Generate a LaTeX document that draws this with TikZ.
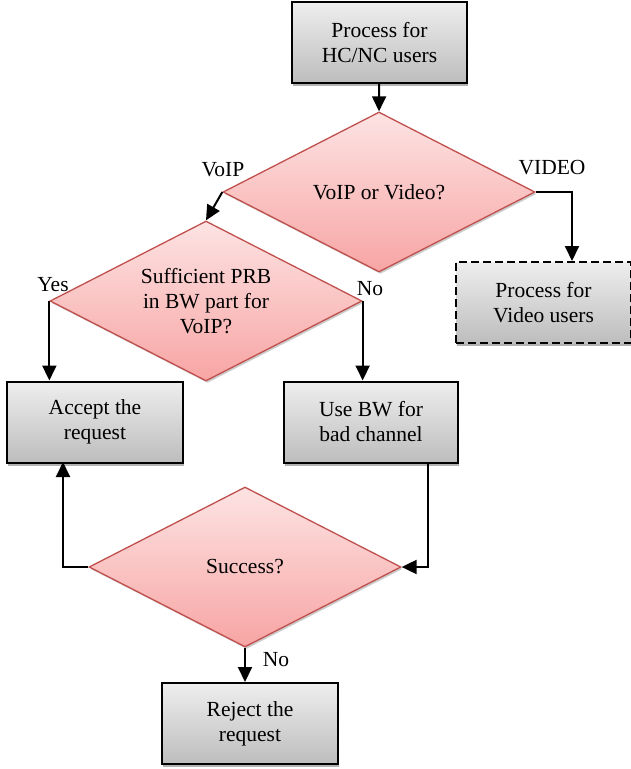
\documentclass[tikz,border=0pt]{standalone}
\usepackage{fontspec}
\setmainfont{Liberation Serif}
\usetikzlibrary{shapes.geometric,arrows.meta,shadows}
\definecolor{boxtop}{HTML}{EEEEEE}
\definecolor{boxbot}{HTML}{BDBDBD}
\definecolor{dtop}{HTML}{FDE3E3}
\definecolor{dbot}{HTML}{F7A5A4}
\definecolor{dline}{HTML}{C0504D}
\tikzset{
  procbox/.style={draw=black, line width=2pt, top color=boxtop, bottom color=boxbot,
    minimum width=175pt, minimum height=81pt, align=center, inner sep=0pt,
    drop shadow={shadow xshift=1pt, shadow yshift=-3pt, fill=gray!60, opacity=1}},
  decision/.style={diamond, draw=dline, line width=1.3pt, top color=dtop, bottom color=dbot,
    minimum width=312pt, minimum height=160pt, aspect=1.95, inner sep=0pt, align=center,
    drop shadow={shadow xshift=1.5pt, shadow yshift=-2pt, fill=gray!40, opacity=1}},
  lbl/.style={inner sep=0pt},
  flow/.style={line width=2pt, -{Triangle[width=14pt,length=15pt]}}
}
\begin{document}
\begin{tikzpicture}[x=1pt, y=-1pt, font=\fontsize{21.5}{25}\selectfont]
  \useasboundingbox (0,0) rectangle (631,769);
  \draw
    (379.5,42.5) node[procbox] (hcnc){Process for\\HC/NC users}
    (379,192) node[decision] (voipvideo){VoIP or Video?}
    (543.5,302.5) node[procbox, dash pattern=on 8pt off 4pt] (video){Process for\\Video users}
    (206,301) node[decision] (prb){Sufficient PRB\\in BW part for\\VoIP?}
    (95,422) node[procbox, minimum width=176pt] (accept){Accept the\\request}
    (371,422) node[procbox, minimum width=174pt] (usebw){Use BW for\\bad channel}
    (245,567) node[decision] (success){Success?}
    (250,723.5) node[procbox, minimum width=176pt] (reject){Reject the\\request};
  \draw
    (223,170) node[lbl] (lvoip){VoIP}
    (552,168) node[lbl] (lvideo){VIDEO}
    (53,285) node[lbl] (lyes){Yes}
    (370,289) node[lbl] (lno){No}
    (276,660) node[lbl] (lno2){No};
  \coordinate (vcorner) at (572,192);
  \coordinate (bwout) at (428,462);
  \coordinate (accin) at (63,462);
  \begin{scope}[flow]
    \draw (hcnc) to (voipvideo.north);
    \draw (voipvideo.west) to (prb.north);
    \draw (voipvideo.east) -- (vcorner) -- (vcorner |- video.north);
    \draw (prb.west) -- (prb.west |- accept.north);
    \draw (prb.east) -- (prb.east |- usebw.north);
    \draw (bwout) |- (success.east);
    \draw (success.west) -| (accin);
    \draw (success.south) -- (success.south |- reject.north);
  \end{scope}
\end{tikzpicture}
\end{document}
